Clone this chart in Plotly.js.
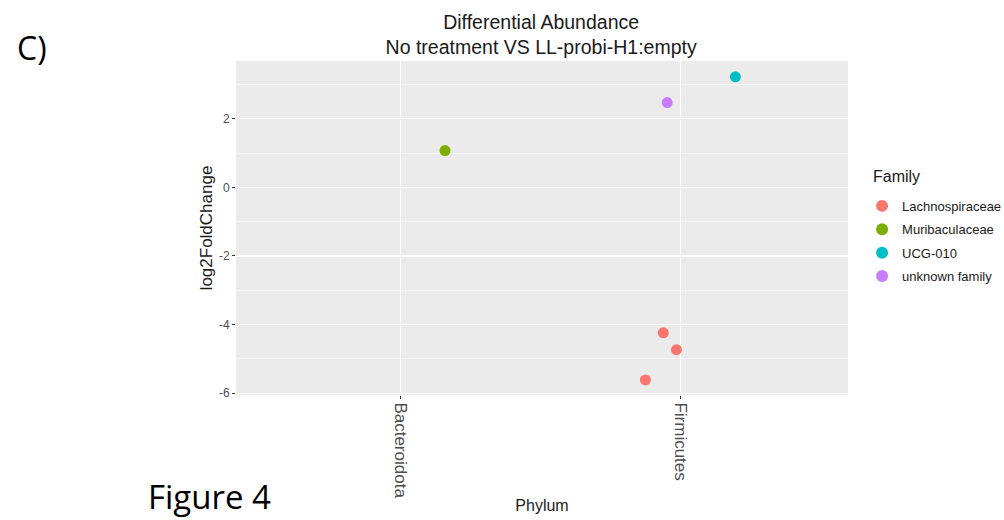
<!DOCTYPE html>
<html>
<head>
<meta charset="utf-8">
<script src="https://cdn.plot.ly/plotly-3.0.1.min.js"></script>
<style>
html,body{margin:0;padding:0;background:#fff;}
#chart{width:1004px;height:520px;}
</style>
</head>
<body>
<div id="chart"></div>
<script>
// Data
const phylumCategories = ["Bacteroidota", "Firmicutes"];
const families = ["Lachnospiraceae", "Muribaculaceae", "UCG-010", "unknown family"];
const familyColors = ["#F8766D", "#7CAE00", "#00BFC4", "#C77CFF"];

// one entry per plotted ASV
const pointPhylum = ["Firmicutes", "Firmicutes", "Firmicutes", "Bacteroidota", "Firmicutes", "Firmicutes"];
const pointFamily = ["Lachnospiraceae", "Lachnospiraceae", "Lachnospiraceae", "Muribaculaceae", "UCG-010", "unknown family"];
const pointJitter = [-0.061, -0.014, -0.125, 0.158, 0.197, -0.047];
const pointLog2FC = [-4.24, -4.73, -5.61, 1.07, 3.22, 2.47];

const yTickVals = [-6, -4, -2, 0, 2];
const yTickLabels = ["-6", "-4", "-2", "0", "2"];

const traces = families.map((fam, fi) => {
  const xs = [], ys = [];
  pointFamily.forEach((f, i) => {
    if (f === fam) {
      xs.push(phylumCategories.indexOf(pointPhylum[i]) + 1 + pointJitter[i]);
      ys.push(pointLog2FC[i]);
    }
  });
  return {
    type: "scatter", mode: "markers", name: fam, x: xs, y: ys,
    legendgroup: fam,
    marker: {color: familyColors[fi], size: 11, line: {width: 0}},
    cliponaxis: false
  };
});

const sans = "Liberation Sans, Arial, sans-serif";

const layout = {
  width: 1004, height: 520,
  margin: {l: 236, r: 156, t: 61, b: 125, autoexpand: false},
  paper_bgcolor: "#FFFFFF",
  plot_bgcolor: "#EBEBEB",
  font: {family: sans, color: "#1A1A1A"},
  title: {
    text: "Differential Abundance<br>No treatment VS LL-probi-H1:empty",
    font: {family: sans, size: 19.5, color: "#1A1A1A"},
    x: 0.539, xanchor: "center", xref: "container",
    y: 0.944, yanchor: "top", yref: "container", automargin: false
  },
  xaxis: {
    range: [0.41, 2.6],
    tickvals: [1, 2], ticktext: phylumCategories,
    tickangle: 90,
    tickfont: {family: sans, size: 17, color: "#4D4D4D"},
    ticks: "outside", ticklen: 3, tickcolor: "#333333", tickwidth: 1,
    showgrid: true, gridcolor: "#FFFFFF", gridwidth: 1.1,
    zeroline: false, showline: false,
    title: {text: "Phylum", font: {family: sans, size: 16, color: "#1A1A1A"}, standoff: 2}
  },
  yaxis: {
    range: [-6.05, 3.68],
    tickvals: yTickVals, ticktext: yTickLabels,
    tickfont: {family: sans, size: 12, color: "#4D4D4D"},
    ticks: "outside", ticklen: 3, tickcolor: "#333333", tickwidth: 1,
    showgrid: true, gridcolor: "#FFFFFF", gridwidth: 1.1,
    minor: {dtick: 1, tick0: 1, showgrid: true, gridcolor: "#FFFFFF", gridwidth: 0.5, ticks: ""},
    zeroline: false, showline: false,
    title: {text: "log2FoldChange", font: {family: sans, size: 17, color: "#1A1A1A"}, standoff: 1}
  },
  legend: {
    x: 1.023, xanchor: "left", y: 0.611, yanchor: "top",
    font: {family: sans, size: 13, color: "#1A1A1A"},
    bgcolor: "rgba(0,0,0,0)",
    itemsizing: "constant",
    tracegroupgap: 3.5
  },
  showlegend: true,
  annotations: [
    {text: "Family", xref: "paper", yref: "paper", x: 1.0376, y: 0.653, xanchor: "left", yanchor: "middle",
     showarrow: false, font: {family: sans, size: 16, color: "#1A1A1A"}},
    {text: "C)", xref: "paper", yref: "paper", x: -0.333, y: 1.041, xanchor: "center", yanchor: "middle",
     showarrow: false, font: {family: "Open Sans, sans-serif", size: 32, color: "#000000"}},
    {text: "Figure 4", xref: "paper", yref: "paper", x: -0.0433, y: -0.305, xanchor: "center", yanchor: "middle",
     showarrow: false, font: {family: "Open Sans, sans-serif", size: 33, color: "#000000"}}
  ]
};

Plotly.newPlot("chart", traces, layout, {displayModeBar: false, staticPlot: true});
</script>
</body>
</html>
